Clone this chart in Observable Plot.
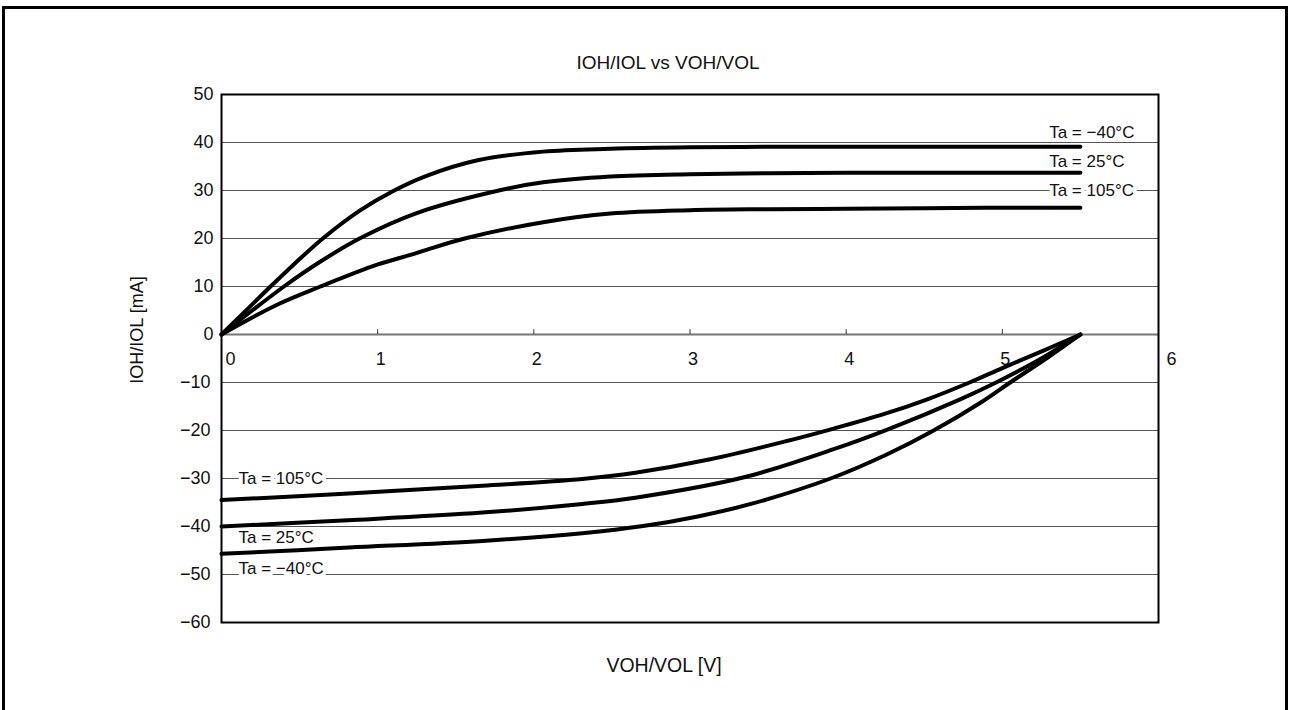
<!DOCTYPE html>
<html>
<head>
<meta charset="utf-8">
<script src="https://cdn.jsdelivr.net/npm/d3@7"></script>
<script src="https://cdn.jsdelivr.net/npm/@observablehq/plot@0.6"></script>
<style>
  body { margin: 0; background: #fff; overflow: hidden; font-family: "Liberation Sans", Arial, sans-serif; }
  #wrap { position: relative; width: 1290px; height: 710px; overflow: hidden; }
  #frame { position: absolute; left: 2px; top: 6px; width: 1280px; height: 800px; border: 3px solid #000; }
  .t { position: absolute; color: #111; white-space: nowrap; transform: translate(-50%, -50%); }
  #chart { position: absolute; left: 0; top: 0; }
</style>
</head>
<body>
<div id="wrap">
  <div id="frame"></div>
  <div id="chart"></div>
  <div class="t" id="title" style="left:668px;top:63px;font-size:19px;">IOH/IOL vs VOH/VOL</div>
  <div class="t" id="xtitle" style="left:664px;top:665px;font-size:19.5px;">VOH/VOL [V]</div>
  <div class="t" id="ytitle" style="left:137px;top:330px;font-size:18px;transform:translate(-50%,-50%) rotate(-90deg);">IOH/IOL [mA]</div>
</div>
<script>
// ---- Data ----
const temps = ["Ta = −40°C", "Ta = 25°C", "Ta = 105°C"];

// IOH (source, positive) curves
const ioh_m40_x = [0, 0.314, 0.463, 0.645, 0.89, 1.10, 1.317, 1.64, 2.06, 2.49, 3.0, 3.5, 4.0, 4.5, 5.0, 5.5];
const ioh_m40_y = [0, 10.0, 14.6, 19.9, 25.9, 29.9, 33.1, 36.3, 38.1, 38.7, 39.0, 39.1, 39.1, 39.1, 39.1, 39.1];
const ioh_25_x  = [0, 0.40, 0.634, 0.89, 1.25, 1.79, 2.06, 2.49, 3.0, 3.5, 4.0, 4.5, 5.0, 5.5];
const ioh_25_y  = [0, 10.0, 15.2, 20.1, 25.3, 30.1, 31.7, 32.9, 33.4, 33.6, 33.7, 33.7, 33.7, 33.7];
const ioh_105_x = [0, 0.356, 0.634, 0.997, 1.21, 1.317, 1.57, 2.06, 2.49, 3.0, 3.5, 4.0, 4.5, 5.0, 5.5];
const ioh_105_y = [0, 6.2, 10.0, 14.55, 16.6, 17.7, 20.1, 23.4, 25.2, 25.9, 26.1, 26.2, 26.3, 26.4, 26.4];

// IOL (sink, negative) curves
const iol_m40_x = [0, 0.815, 1.67, 2.31, 2.70, 3.05, 3.39, 3.90, 4.26, 4.56, 4.87, 5.05, 5.3, 5.5];
const iol_m40_y = [-45.7, -44.4, -43.0, -41.4, -39.9, -37.9, -35.3, -30.0, -25.0, -20.0, -14.0, -10.0, -4.6, 0];
const iol_25_x  = [0, 0.81, 1.67, 2.31, 2.65, 3.34, 3.92, 4.28, 4.73, 4.96, 5.25, 5.5];
const iol_25_y  = [-40.0, -38.7, -37.1, -35.3, -34.0, -29.8, -23.9, -19.6, -13.5, -10.0, -5.0, 0];
const iol_105_x = [0, 0.815, 1.67, 2.31, 2.65, 3.13, 3.62, 3.92, 4.24, 4.52, 4.79, 5.0, 5.26, 5.5];
const iol_105_y = [-34.5, -33.1, -31.5, -30.1, -28.8, -26.0, -22.2, -19.6, -16.6, -13.5, -10.0, -7.0, -3.4, 0];

// Axis ticks
const xTicks = [0, 1, 2, 3, 4, 5, 6];
const yTicks = [50, 40, 30, 20, 10, 0, -10, -20, -30, -40, -50, -60];
const yTickLabels = ["50", "40", "30", "20", "10", "0", "−10", "−20", "−30", "−40", "−50", "−60"];
const gridY = [40, 30, 20, 10, -10, -20, -30, -40, -50];

// Curve labels (anchor positions in data units)
const topLabelX = [5.3, 5.3, 5.3];
const topLabelY = [42.0, 36.0, 30.0];
const bottomLabelX = [0.109, 0.109, 0.109];
const bottomLabelY = [-48.8, -42.4, -30.0];

// ---- Build tables ----
function series(xs, ys, name) { return xs.map((x, i) => ({x, y: ys[i], s: name})); }
const curves = [
  ...series(ioh_m40_x, ioh_m40_y, "ioh-40"),
  ...series(ioh_25_x, ioh_25_y, "ioh25"),
  ...series(ioh_105_x, ioh_105_y, "ioh105"),
  ...series(iol_m40_x, iol_m40_y, "iol-40"),
  ...series(iol_25_x, iol_25_y, "iol25"),
  ...series(iol_105_x, iol_105_y, "iol105")
];
const labels = [
  ...temps.map((t, i) => ({t, x: topLabelX[i], y: topLabelY[i]})),
  ...temps.map((t, i) => ({t, x: bottomLabelX[i], y: bottomLabelY[i]}))
];
const yTickRows = yTicks.map((v, i) => ({v, label: yTickLabels[i]}));
const font = "'Liberation Sans', Arial, sans-serif";

const plot = Plot.plot({
  width: 1290,
  height: 710,
  marginLeft: 221,
  marginRight: 132,
  marginTop: 94,
  marginBottom: 88,
  x: {domain: [0, 6], axis: null},
  y: {domain: [-60, 50], axis: null},
  style: {fontFamily: font, background: "transparent", overflow: "visible"},
  marks: [
    Plot.ruleY(gridY, {stroke: "#555", strokeWidth: 1}),
    Plot.ruleY([0], {stroke: "#777", strokeWidth: 2}),
    Plot.ruleX(xTicks.slice(1, 6), {x: d => d, y1: () => 0, y2: () => 1, stroke: "#333", strokeWidth: 1}),
    Plot.text(labels, {x: "x", y: "y", text: "t", textAnchor: "start", fontSize: 17, fill: "#111",
      stroke: "white", strokeWidth: 8, paintOrder: "stroke"}),
    Plot.line(curves, {x: "x", y: "y", z: "s", curve: "catmull-rom", stroke: "#000", strokeWidth: 4,
      strokeLinecap: "round", strokeLinejoin: "round"}),
    Plot.frame({stroke: "#000", strokeWidth: 2}),
    Plot.text(xTicks.slice(1, 6), {x: d => d, y: () => 0, text: d => String(d), dy: 25, dx: 3, fontSize: 18, fill: "#111"}),
    Plot.text([xTicks[0]], {x: d => d, y: () => 0, text: d => String(d), dy: 25, dx: 9, fontSize: 18, fill: "#111"}),
    Plot.text([xTicks[6]], {x: d => d, y: () => 0, text: d => String(d), dy: 25, dx: 13, fontSize: 18, fill: "#111"}),
    Plot.text(yTickRows.filter(d => d.v >= 0), {x: () => 0, y: "v", text: "label", textAnchor: "end", dx: -8, fontSize: 18, fill: "#111"}),
    Plot.text(yTickRows.filter(d => d.v < 0), {x: () => 0, y: "v", text: "label", textAnchor: "end", dx: -11, fontSize: 18, fill: "#111"})
  ]
});
document.getElementById("chart").appendChild(plot);
</script>
</body>
</html>
